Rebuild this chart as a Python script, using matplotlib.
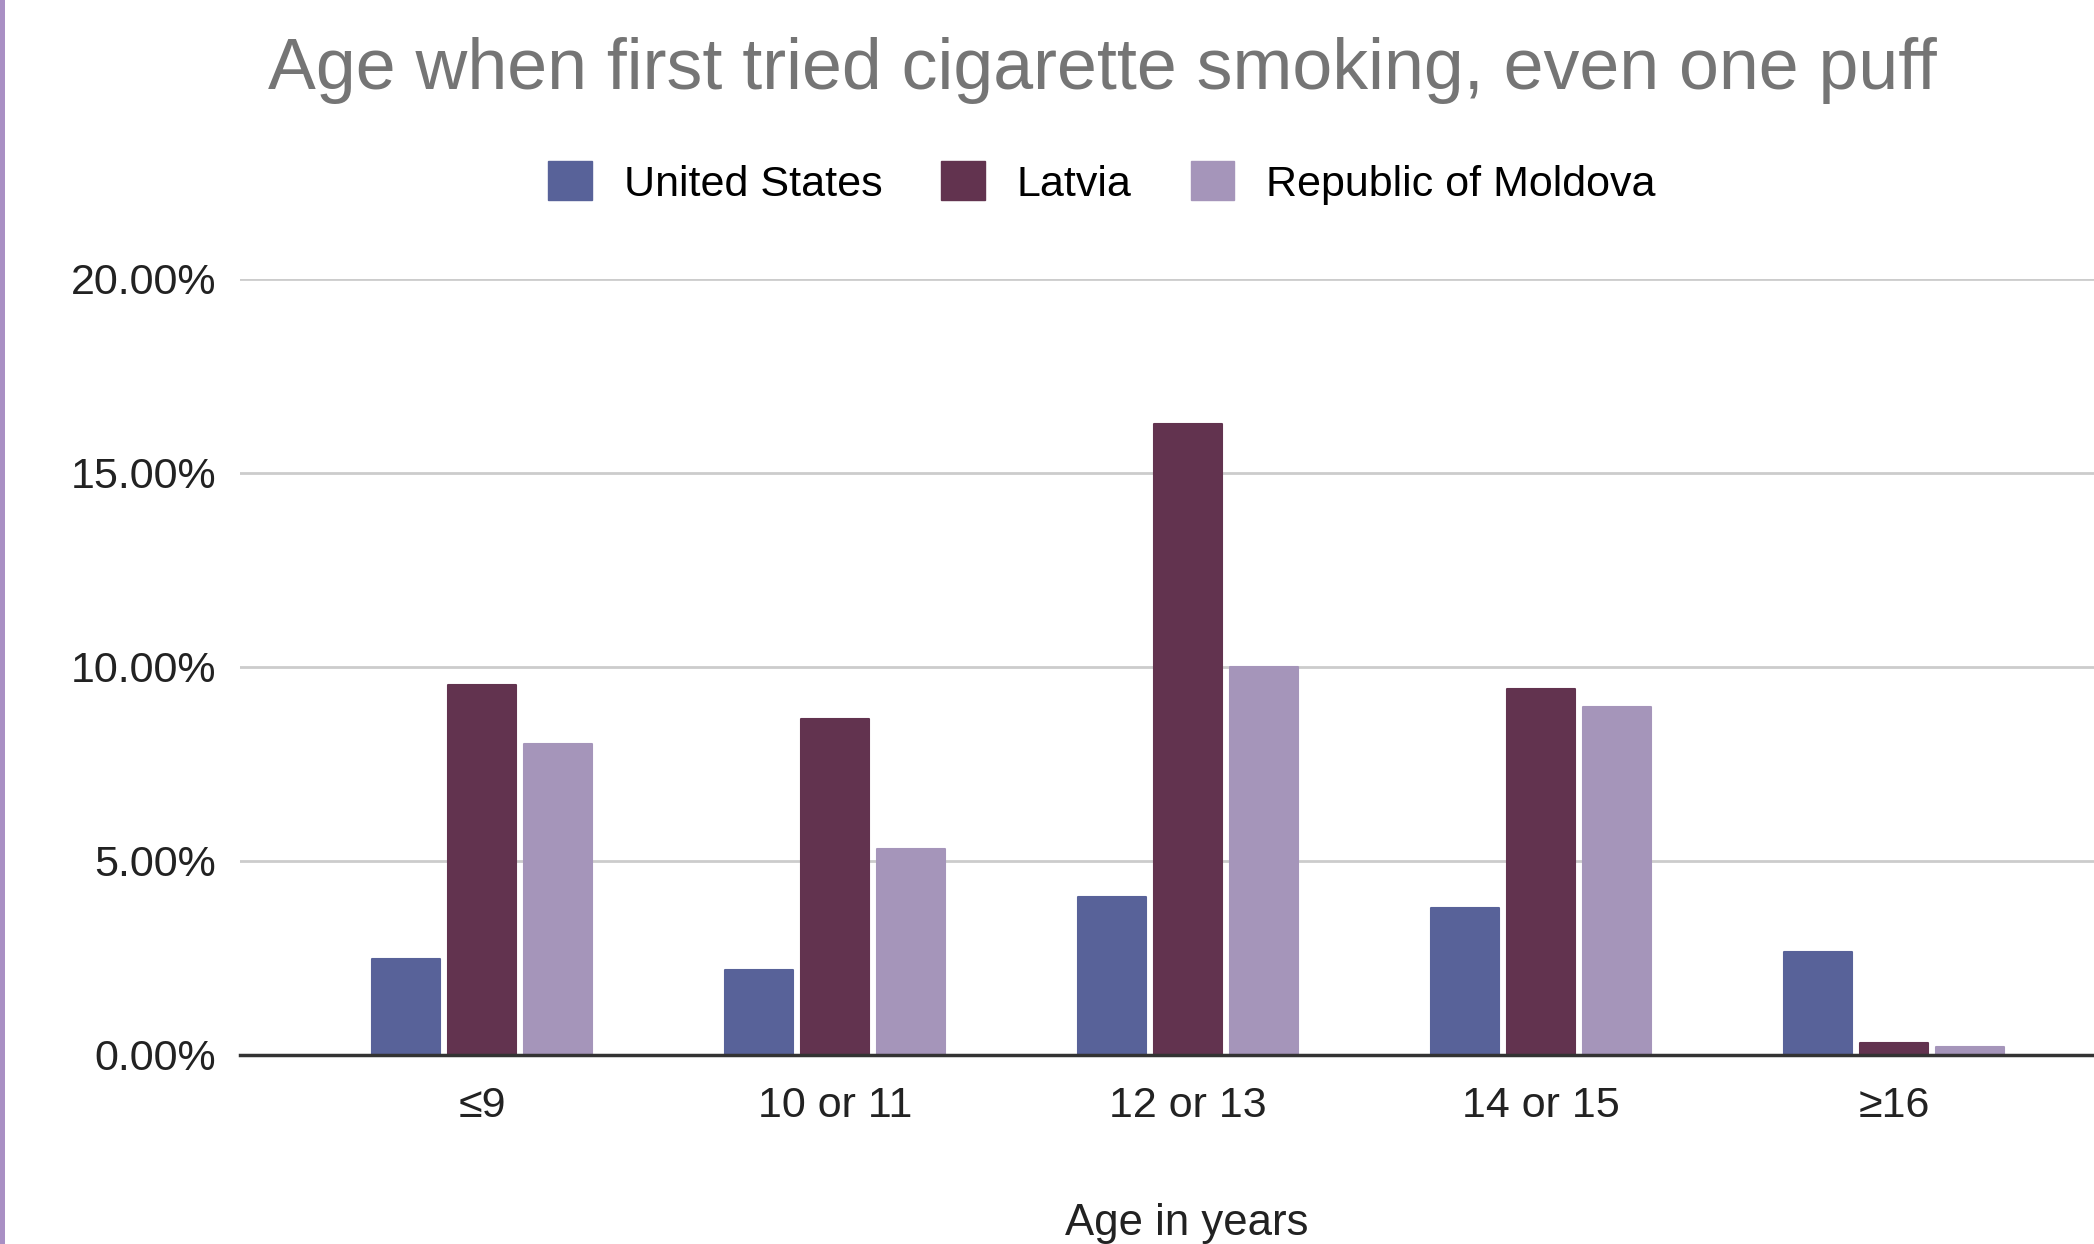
import matplotlib
matplotlib.use("Agg")
import matplotlib.pyplot as plt
import numpy as np
from matplotlib.patches import Patch, Rectangle

plt.rcParams['font.family'] = ['Liberation Sans', 'DejaVu Sans']

categories = ["≤9", "10 or 11", "12 or 13", "14 or 15", "≥16"]
series_names = ["United States", "Latvia", "Republic of Moldova"]
us = [2.48, 2.20, 4.06, 3.79, 2.65]
latvia = [9.54, 8.67, 16.25, 9.43, 0.30]
moldova = [8.02, 5.30, 10.00, 8.98, 0.20]
colors = ["#586299", "#62334f", "#a595ba"]
yticks = [0, 5, 10, 15, 20]

W, H = 2094, 1244
fig = plt.figure(figsize=(W / 100, H / 100), dpi=100)
fig.patch.set_facecolor("white")

left, right, top, bottom = 240, 2094, 279, 1055
ax = fig.add_axes([left / W, (H - bottom) / H, (right - left) / W, (bottom - top) / H])

x = np.arange(len(categories))
bw = 0.193
off = 0.2155
for i, (vals, c) in enumerate(zip([us, latvia, moldova], colors)):
    ax.bar(x + (i - 1) * off, vals, width=bw, color=c, edgecolor=c, linewidth=1.5,
           joinstyle="round", zorder=3)

ax.set_xlim(-0.686, 4.567)
ax.set_ylim(0, 20)
ax.set_yticks(yticks)
ax.set_yticklabels([f"{v:.2f}%" for v in yticks], fontsize=31, color="#222222")
ax.set_xticks(x)
ax.set_xticklabels(categories, fontsize=31, color="#222222")
ax.tick_params(axis="both", length=0)
ax.tick_params(axis="y", pad=17)
ax.tick_params(axis="x", pad=22)
ax.grid(axis="y", color="#cccccc", linewidth=2, zorder=0)
for s in ["top", "right", "left"]:
    ax.spines[s].set_visible(False)
ax.spines["bottom"].set_color("#333333")
ax.spines["bottom"].set_linewidth(2.5)
ax.spines["bottom"].set_zorder(4)
ax.set_xlabel("Age in years", fontsize=31.5, color="#222222", labelpad=56)
ax.xaxis.label.set_x((1187 - left) / (right - left))

fig.text(1102 / W, 1 - 71 / H, "Age when first tried cigarette smoking, even one puff",
         ha="center", va="center", fontsize=51.7, color="#757575")

handles = [Patch(facecolor=c, edgecolor=c) for c in colors]
fig.legend(handles, series_names, loc="center", bbox_to_anchor=(1102 / W, 1 - 183 / H),
           ncol=3, frameon=False, fontsize=31, handlelength=1.0, handleheight=1.0,
           handletextpad=0.75, columnspacing=1.37)

fig.add_artist(Rectangle((0, 0), 5 / W, 1, transform=fig.transFigure,
                         facecolor="#a98fc4", edgecolor="none"))

fig.savefig("out.png", dpi=100)
